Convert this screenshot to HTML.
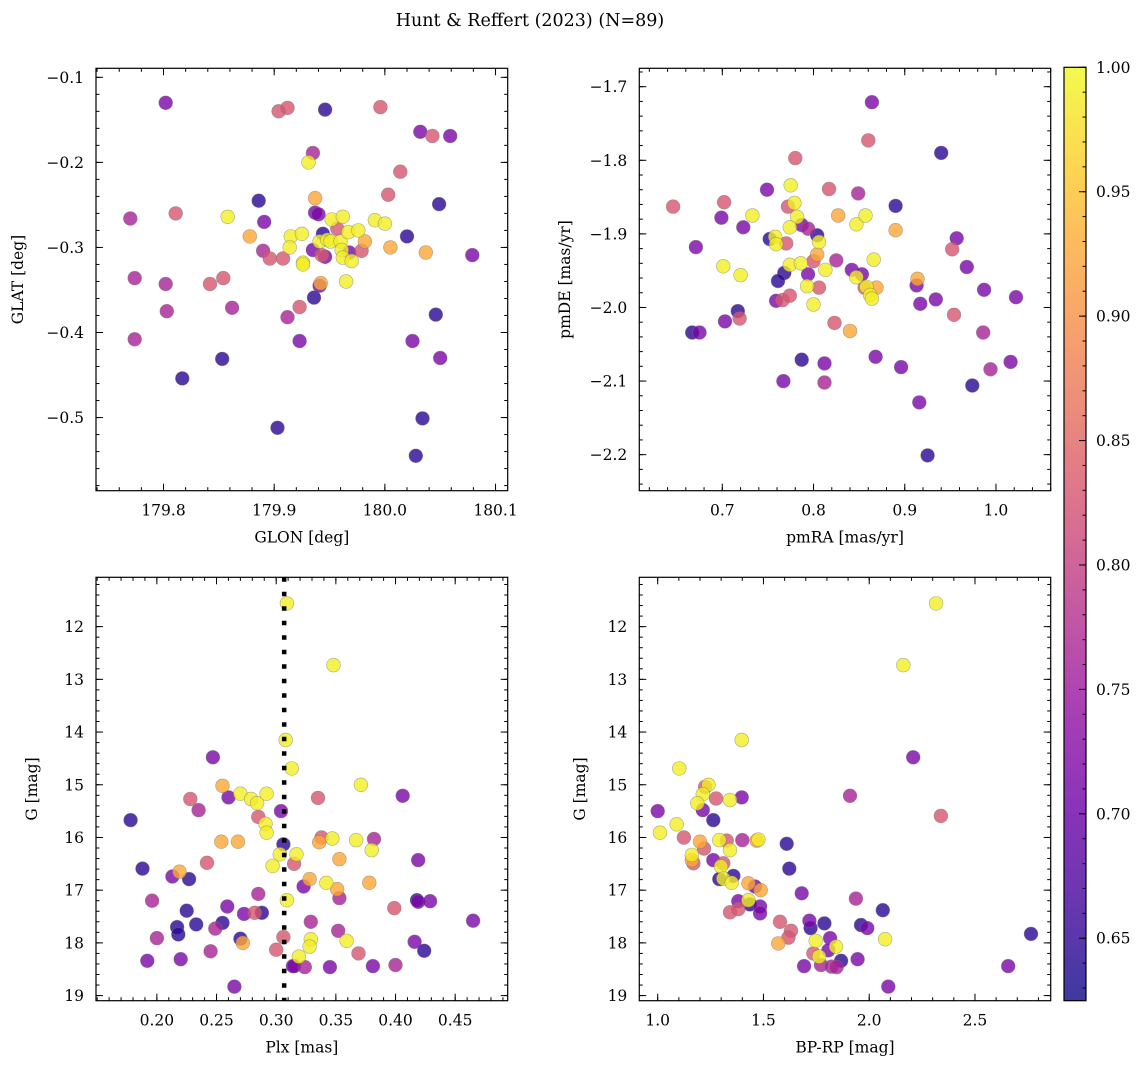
<!DOCTYPE html>
<html><head><meta charset="utf-8"><title>Hunt & Reffert (2023)</title>
<style>
html,body{margin:0;padding:0;background:#fff;}
svg{display:block;font-family:"DejaVu Serif","Liberation Serif",serif;}
</style></head>
<body>
<svg id="fig" width="1148" height="1067" viewBox="0 0 1148 1067" xmlns="http://www.w3.org/2000/svg">
<defs>
<linearGradient id="plasma" x1="0" y1="1" x2="0" y2="0">
<stop offset="0" stop-color="#0d0887"/><stop offset="0.1" stop-color="#41049d"/><stop offset="0.2" stop-color="#6a00a8"/><stop offset="0.3" stop-color="#8f0da4"/><stop offset="0.4" stop-color="#b12a90"/><stop offset="0.5" stop-color="#cc4778"/><stop offset="0.6" stop-color="#e16462"/><stop offset="0.7" stop-color="#f2844b"/><stop offset="0.8" stop-color="#fca636"/><stop offset="0.9" stop-color="#fcce25"/><stop offset="1" stop-color="#f0f921"/>
</linearGradient>
</defs>
<text x="530" y="26" font-size="17.5" text-anchor="middle">Hunt &amp; Reffert (2023) (N=89)</text>
</svg>
<script>
// membership probability class levels
const B=0.645,V=0.715,M=0.765,P=0.83,O=0.925,Y=0.99;

// Panel 1: GLON vs GLAT
const glon1=[179.802,179.770,179.811,179.774,179.774,179.802,179.803,179.817,179.842,179.854,179.862,179.853,179.858,179.878,179.886,179.891,179.890,179.896,179.908,179.904,179.912,179.903,179.912,179.915,179.914,179.925,179.926,179.926,179.923,179.923,179.931,179.935,179.937,179.937,179.940,179.936,179.946,179.935,179.941,179.944,179.943,179.946,179.942,179.941,179.948,179.951,179.952,179.957,179.962,179.960,179.961,179.962,179.965,179.967,179.968,179.970,179.976,179.979,179.982,179.991,180.000,179.996,180.003,180.005,180.014,180.020,180.025,180.028,180.032,180.034,180.037,180.043,180.046,180.049,180.050,180.059,180.079];
const glat1=[-0.130,-0.266,-0.260,-0.336,-0.408,-0.343,-0.375,-0.454,-0.343,-0.336,-0.371,-0.431,-0.264,-0.287,-0.245,-0.270,-0.304,-0.313,-0.313,-0.140,-0.136,-0.512,-0.382,-0.287,-0.300,-0.284,-0.318,-0.320,-0.370,-0.410,-0.200,-0.189,-0.242,-0.259,-0.261,-0.359,-0.138,-0.303,-0.293,-0.284,-0.309,-0.311,-0.342,-0.345,-0.291,-0.293,-0.267,-0.278,-0.264,-0.293,-0.303,-0.312,-0.340,-0.282,-0.306,-0.316,-0.280,-0.304,-0.293,-0.268,-0.272,-0.135,-0.238,-0.300,-0.211,-0.287,-0.410,-0.545,-0.164,-0.501,-0.306,-0.169,-0.379,-0.249,-0.430,-0.169,-0.309];
const prob1=[V,M,P,M,M,M,M,B,P,P,M,B,Y,O,B,V,M,P,P,P,P,B,M,Y,Y,Y,Y,Y,P,V,Y,M,O,V,V,B,B,V,Y,B,P,V,O,V,Y,Y,Y,P,Y,Y,Y,Y,Y,Y,V,Y,Y,P,O,Y,Y,P,P,O,P,B,V,B,V,B,O,P,B,B,V,V,V];

// Panel 2: pmRA vs pmDE
const pmra2=[0.646,0.667,0.675,0.671,0.699,0.702,0.723,0.701,0.703,0.717,0.719,0.720,0.733,0.749,0.752,0.758,0.759,0.770,0.759,0.766,0.768,0.761,0.774,0.767,0.774,0.775,0.780,0.772,0.779,0.782,0.774,0.787,0.794,0.804,0.806,0.786,0.794,0.800,0.804,0.793,0.806,0.800,0.787,0.812,0.812,0.817,0.813,0.827,0.825,0.823,0.840,0.849,0.842,0.847,0.857,0.853,0.847,0.856,0.858,0.862,0.864,0.869,0.866,0.868,0.864,0.860,0.890,0.890,0.896,0.913,0.914,0.917,0.916,0.925,0.934,0.940,0.952,0.957,0.968,0.954,0.974,0.987,0.986,0.994,1.016,1.022];
const pmde2=[-1.863,-2.034,-2.034,-1.918,-1.878,-1.857,-1.891,-1.944,-2.019,-2.005,-2.015,-1.956,-1.875,-1.840,-1.907,-1.904,-1.914,-1.913,-1.991,-1.990,-1.953,-1.964,-1.984,-2.100,-1.942,-1.834,-1.797,-1.863,-1.858,-1.877,-1.891,-1.888,-1.893,-1.902,-1.911,-1.940,-1.955,-1.937,-1.928,-1.971,-1.973,-1.996,-2.071,-2.076,-2.102,-1.839,-1.949,-1.875,-1.936,-2.021,-2.032,-1.845,-1.949,-1.887,-1.875,-1.955,-1.959,-1.973,-1.972,-1.983,-1.988,-1.973,-1.935,-2.067,-1.721,-1.773,-1.862,-1.895,-2.081,-1.970,-1.961,-1.995,-2.129,-2.201,-1.989,-1.790,-1.921,-1.906,-1.945,-2.010,-2.106,-1.976,-2.034,-2.084,-2.074,-1.986];
const prob2=[P,B,V,V,V,P,V,Y,V,B,P,Y,Y,V,B,Y,Y,P,V,P,B,B,P,V,Y,Y,P,P,Y,Y,Y,V,M,B,Y,Y,V,P,O,Y,P,Y,B,V,M,P,Y,O,M,P,O,M,V,Y,Y,V,Y,P,Y,Y,Y,O,Y,V,V,P,B,O,V,V,O,V,V,B,V,B,P,V,V,P,B,V,M,M,V,V];

// Panel 3: Plx vs G
const plx3=[0.247,0.255,0.260,0.228,0.235,0.270,0.279,0.284,0.292,0.285,0.291,0.292,0.304,0.178,0.254,0.268,0.306,0.303,0.297,0.242,0.188,0.213,0.219,0.227,0.285,0.196,0.225,0.259,0.273,0.282,0.288,0.309,0.217,0.218,0.233,0.249,0.255,0.270,0.272,0.200,0.306,0.300,0.245,0.192,0.220,0.265,0.314,0.309,0.348,0.308,0.313,0.371,0.406,0.335,0.338,0.336,0.347,0.367,0.382,0.380,0.353,0.419,0.317,0.315,0.328,0.323,0.342,0.351,0.353,0.378,0.418,0.419,0.429,0.399,0.465,0.329,0.352,0.359,0.329,0.328,0.416,0.424,0.369,0.319,0.315,0.324,0.345,0.381,0.400];
const gmag3=[14.48,15.02,15.24,15.27,15.48,15.17,15.27,15.35,15.17,15.61,15.74,15.91,15.50,15.67,16.08,16.08,16.13,16.32,16.54,16.48,16.59,16.74,16.65,16.79,17.07,17.20,17.39,17.31,17.45,17.43,17.43,17.19,17.70,17.84,17.65,17.73,17.62,17.92,18.00,17.91,17.89,18.13,18.16,18.34,18.31,18.83,18.44,11.56,12.73,14.15,14.69,15.00,15.21,15.25,16.00,16.09,16.02,16.05,16.03,16.24,16.41,16.43,16.32,16.50,16.79,16.93,16.86,16.98,17.15,16.86,17.19,17.22,17.21,17.34,17.58,17.60,17.77,17.96,17.93,18.07,17.98,18.15,18.20,18.26,18.44,18.46,18.46,18.44,18.42];
const prob3=[V,O,V,P,M,Y,Y,Y,Y,P,Y,Y,V,B,O,O,B,Y,Y,P,B,V,O,B,M,M,B,V,V,P,B,Y,B,B,B,M,B,B,O,M,P,P,M,V,V,V,V,Y,Y,Y,Y,Y,V,P,P,O,Y,Y,M,Y,O,V,Y,P,O,V,Y,O,M,O,B,V,V,P,V,M,M,Y,Y,Y,V,B,P,Y,V,M,V,V,M];
const plxLine=0.3067;

// Panel 4: BP-RP vs G
const bprp4=[2.316,2.161,1.397,1.102,2.208,1.909,2.339,1.000,1.011,1.090,1.124,1.224,1.240,1.213,1.187,1.213,1.276,1.342,1.397,1.263,1.200,1.219,1.291,1.326,1.342,1.400,1.476,1.468,1.161,1.161,1.169,1.263,1.310,1.299,1.291,1.310,1.358,1.350,1.429,1.460,1.487,1.381,1.429,1.436,1.484,1.484,1.342,1.381,1.610,1.622,1.681,1.578,1.630,1.618,1.570,1.717,1.723,1.788,1.747,1.736,1.763,1.692,1.772,1.815,1.807,1.843,1.867,1.822,1.846,1.937,1.945,1.961,1.991,2.064,2.075,2.090,2.657,2.765];
const gmag4=[11.56,12.73,14.15,14.69,14.48,15.21,15.59,15.50,15.91,15.75,16.00,15.04,15.00,15.18,15.35,15.48,15.26,15.29,15.24,15.67,16.08,16.21,16.05,16.06,16.24,16.05,16.04,16.06,16.33,16.43,16.49,16.43,16.49,16.55,16.79,16.78,16.73,16.86,16.87,16.93,17.00,17.21,17.19,17.27,17.31,17.44,17.42,17.36,16.12,16.59,17.06,17.60,17.77,17.90,18.01,17.58,17.72,17.63,17.96,18.20,18.26,18.44,18.42,17.91,18.14,18.07,18.34,18.45,18.46,17.16,18.31,17.66,17.72,17.38,17.93,18.83,18.44,17.83];
const prob4=[Y,Y,Y,Y,V,M,P,V,Y,Y,P,P,Y,Y,Y,V,P,Y,V,B,O,P,Y,P,Y,M,Y,O,Y,O,P,V,P,Y,B,Y,B,Y,O,V,O,V,Y,B,V,V,P,P,B,B,V,P,P,P,O,V,B,B,Y,P,Y,V,M,V,V,Y,B,M,M,M,V,B,V,B,Y,V,V,B];

// Colorbar ticks
const cbTicks=[0.65,0.70,0.75,0.80,0.85,0.90,0.95,1.00];
const cbMin=0.6249, cbMax=1.0;

const NS="http://www.w3.org/2000/svg";
const svg=document.getElementById('fig');
function mk(tag,attrs,parent){const e=document.createElementNS(NS,tag);for(const k in attrs)e.setAttribute(k,attrs[k]);(parent||svg).appendChild(e);return e;}
const stops=[[0,[13,8,135]],[0.1,[65,4,157]],[0.2,[106,0,168]],[0.3,[143,13,164]],[0.4,[177,42,144]],[0.5,[204,71,120]],[0.6,[225,100,98]],[0.7,[242,132,75]],[0.8,[252,166,54]],[0.9,[252,206,37]],[1,[240,249,33]]];
function plasma(t){t=Math.max(0,Math.min(1,t));for(let i=1;i<stops.length;i++){if(t<=stops[i][0]){const a=stops[i-1],b=stops[i];const f=(t-a[0])/(b[0]-a[0]);const c=a[1].map((v,j)=>Math.round(v+(b[1][j]-v)*f));return 'rgb('+c.join(',')+')';}}return 'rgb(240,249,33)';}
function fmt(v,d){const s=Math.abs(v).toFixed(d);return (v<-1e-9?'\u2212':'')+s;}

function panel(cfg){
  const g=mk('g',{});
  
  
  const [L,T,R,Bt]=cfg.box;
  const sx=v=>L+(v-cfg.xd[0])/(cfg.xd[1]-cfg.xd[0])*(R-L);
  const sy=cfg.yinv? (v=>T+(v-cfg.yd[0])/(cfg.yd[1]-cfg.yd[0])*(Bt-T)) : (v=>Bt-(v-cfg.yd[0])/(cfg.yd[1]-cfg.yd[0])*(Bt-T));
  const idx=cfg.xs.map((_,i)=>i).sort((a,b)=>cfg.cs[a]-cfg.cs[b]);
  const pg=mk('g',{},g);
  
  
  idx.forEach(i=>{
    const c=mk('circle',{cx:sx(cfg.xs[i]).toFixed(1),cy:sy(cfg.ys[i]).toFixed(1),r:6.9,fill:plasma((cfg.cs[i]-cbMin)/(cbMax-cbMin)),'fill-opacity':0.8,stroke:'#777','stroke-opacity':0.6,'stroke-width':0.6},pg);
    
    
  });
  if(cfg.vline!==undefined){
    const ln=mk('line',{x1:sx(cfg.vline),x2:sx(cfg.vline),y1:T,y2:Bt,stroke:'#000','stroke-width':4.5,'stroke-dasharray':'4.5 10'},g);
    
    
  }
  const sp=mk('rect',{x:L,y:T,width:R-L,height:Bt-T,fill:'none',stroke:'#000','stroke-width':1.2},g);
  
  
  const tg=mk('g',{stroke:'#000','stroke-width':1},g);
  const eps=1e-9;
  const minorX=[];for(let v=Math.ceil(cfg.xd[0]/cfg.xminor-eps)*cfg.xminor;v<=cfg.xd[1]+eps;v+=cfg.xminor)minorX.push(v);
  const minorY=[];for(let v=Math.ceil(cfg.yd[0]/cfg.yminor-eps)*cfg.yminor;v<=cfg.yd[1]+eps;v+=cfg.yminor)minorY.push(v);
  minorX.forEach(v=>{const x=sx(v);mk('line',{x1:x,x2:x,y1:Bt,y2:Bt-3.5},tg);mk('line',{x1:x,x2:x,y1:T,y2:T+3.5},tg);});
  minorY.forEach(v=>{const y=sy(v);mk('line',{x1:L,x2:L+3.5,y1:y,y2:y},tg);mk('line',{x1:R,x2:R-3.5,y1:y,y2:y},tg);});
  cfg.xticks.forEach(v=>{const x=sx(v);mk('line',{x1:x,x2:x,y1:Bt,y2:Bt-7},tg);mk('line',{x1:x,x2:x,y1:T,y2:T+7},tg);
    const t=mk('text',{x:x,y:Bt+25,'font-size':15.5,'text-anchor':'middle'},g);t.textContent=fmt(v,cfg.xdec);
    });
  cfg.yticks.forEach(v=>{const y=sy(v);mk('line',{x1:L,x2:L+7,y1:y,y2:y},tg);mk('line',{x1:R,x2:R-7,y1:y,y2:y},tg);
    const t=mk('text',{x:L-12,y:y+5.5,'font-size':15.5,'text-anchor':'end'},g);t.textContent=fmt(v,cfg.ydec);
    });
  const xt=mk('text',{x:(L+R)/2,y:Bt+52,'font-size':15.5,'text-anchor':'middle'},g);xt.textContent=cfg.xlabel;
  
  const cy=(T+Bt)/2;
  const yt=mk('text',{x:cfg.ylx,y:cy,'font-size':15.5,'text-anchor':'middle',transform:'rotate(-90 '+cfg.ylx+' '+cy+')'},g);yt.textContent=cfg.ylabel;
  
}

panel({name:'glon-glat-panel',box:[96,68.3,507.7,490.7],xd:[179.739,180.111],yd:[-0.586,-0.0894],xs:glon1,ys:glat1,cs:prob1,
  xticks:[179.8,179.9,180.0,180.1],yticks:[-0.5,-0.4,-0.3,-0.2,-0.1],xminor:0.02,yminor:0.02,xdec:1,ydec:1,xlabel:'GLON [deg]',ylabel:'GLAT [deg]',ylx:23});
panel({name:'proper-motion-panel',box:[639.3,68.3,1050.7,490.7],xd:[0.609,1.060],yd:[-2.249,-1.675],xs:pmra2,ys:pmde2,cs:prob2,
  xticks:[0.7,0.8,0.9,1.0],yticks:[-2.2,-2.1,-2.0,-1.9,-1.8,-1.7],xminor:0.02,yminor:0.02,xdec:1,ydec:1,xlabel:'pmRA [mas/yr]',ylabel:'pmDE [mas/yr]',ylx:570});
panel({name:'parallax-magnitude-panel',box:[96,577.3,507.7,1000.7],xd:[0.149,0.494],yd:[11.064,19.097],yinv:true,xs:plx3,ys:gmag3,cs:prob3,vline:plxLine,
  xticks:[0.20,0.25,0.30,0.35,0.40,0.45],yticks:[12,13,14,15,16,17,18,19],xminor:0.01,yminor:0.2,xdec:2,ydec:0,xlabel:'Plx [mas]',ylabel:'G [mag]',ylx:37});
panel({name:'color-magnitude-panel',box:[639.3,577.3,1050.7,1000.7],xd:[0.913,2.858],yd:[11.064,19.097],yinv:true,xs:bprp4,ys:gmag4,cs:prob4,
  xticks:[1.0,1.5,2.0,2.5],yticks:[12,13,14,15,16,17,18,19],xminor:0.1,yminor:0.2,xdec:1,ydec:0,xlabel:'BP-RP [mag]',ylabel:'G [mag]',ylx:585});

(function(){
  const L=1064,R=1086,T=67.3,Bt=1000.7;
  const g=mk('g',{});
  
  
  mk('rect',{x:L,y:T,width:R-L,height:Bt-T,fill:'url(#plasma)','fill-opacity':0.8,stroke:'none'},g);
  mk('rect',{x:L,y:T,width:R-L,height:Bt-T,fill:'none',stroke:'#000','stroke-width':1.2},g);
  const sy=v=>Bt-(v-cbMin)/(cbMax-cbMin)*(Bt-T);
  for(let v=Math.ceil(cbMin*100)/100;v<=cbMax+1e-9;v+=0.01){const y=sy(v);mk('line',{x1:R,x2:R-3.5,y1:y,y2:y,stroke:'#000','stroke-width':1},g);}
  cbTicks.forEach(v=>{const y=sy(v);mk('line',{x1:R,x2:R-7,y1:y,y2:y,stroke:'#000','stroke-width':1},g);
    const t=mk('text',{x:R+10,y:y+5.5,'font-size':15.5},g);t.textContent=v.toFixed(2);
    });
})();
</script>
</body></html>
